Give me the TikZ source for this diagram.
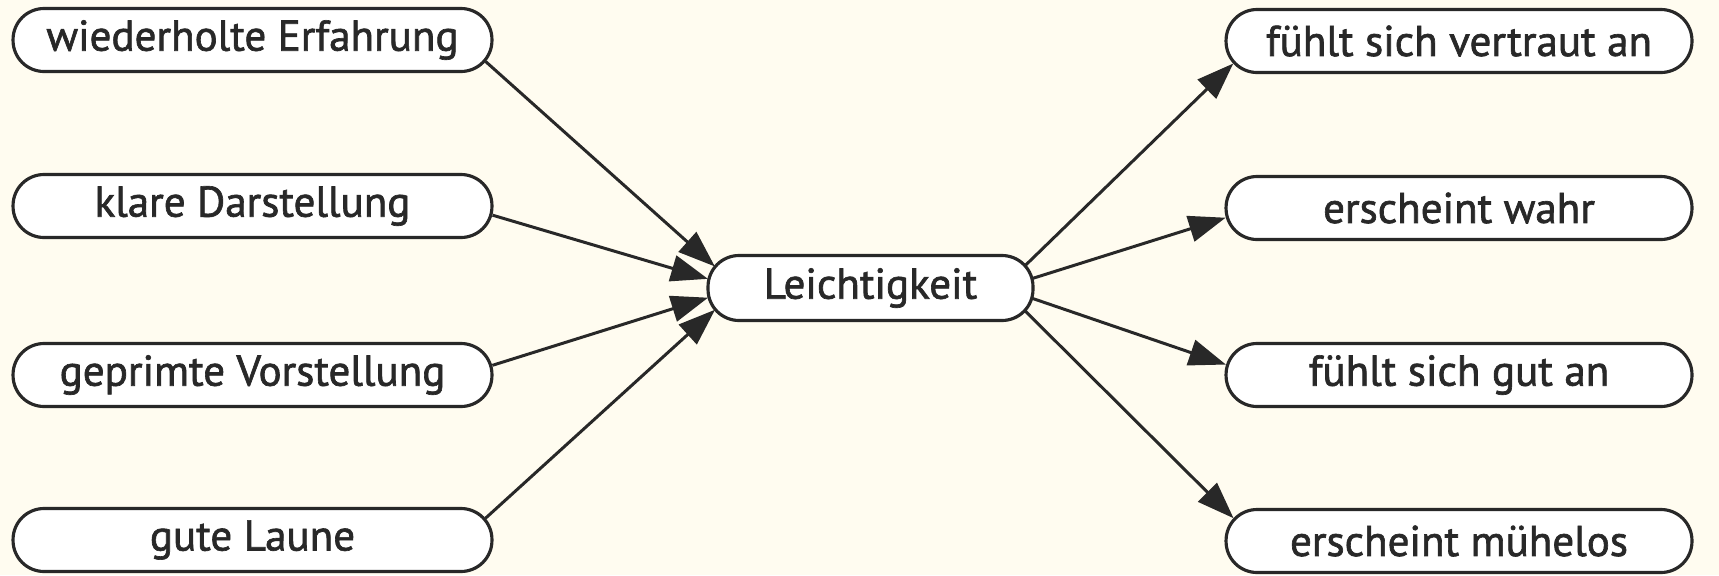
\documentclass[tikz,border=0pt]{standalone}
\usepackage{fontspec}
\setmainfont{PT Sans}
\newfontfamily\labelfont[BoldFont={PT Sans}, BoldFeatures={FakeBold=1.5}]{PT Sans}
\usetikzlibrary{arrows.meta}
\definecolor{paper}{RGB}{255,252,240}
\definecolor{ink}{RGB}{40,40,40}
\tikzset{
  box/.style={draw=ink, fill=white, line width=1.8pt, rectangle,
    rounded corners=0.62cm, minimum height=1.26cm, inner sep=0pt,
    text=ink, font=\labelfont\bfseries\fontsize{24.5}{26}\selectfont},
  leftbox/.style={box, minimum width=9.58cm},
  rightbox/.style={box, minimum width=9.32cm},
  midbox/.style={box, minimum width=6.5cm, minimum height=1.3cm},
  endcap/.style={circle, minimum size=1.28cm, inner sep=0pt, draw=none},
  link/.style={draw=ink, line width=1.7pt,
    -{Triangle[length=21pt,width=15pt]}},
}
\begin{document}
\begin{tikzpicture}[x=0.02cm, y=-0.02cm]
  \fill[paper] (0,0) rectangle (1719,575);
  \useasboundingbox (0,0) rectangle (1719,575);

  % causes
  \node[leftbox] (a1) at (252.5,40) {wiederholte Erfahrung};
  \node[leftbox] (a2) at (252.5,206) {klare Darstellung};
  \node[leftbox] (a3) at (252.5,375) {geprimte Vorstellung};
  \node[leftbox] (a4) at (252.5,540) {gute Laune};

  % central node
  \node[midbox] (m) at (870.5,288) {Leichtigkeit};

  % effects
  \node[rightbox] (b1) at (1459,41) {fühlt sich vertraut an};
  \node[rightbox] (b2) at (1459,208) {erscheint wahr};
  \node[rightbox] (b3) at (1459,375) {fühlt sich gut an};
  \node[rightbox] (b4) at (1459,541) {erscheint mühelos};

  % round ends of the boxes, used as connector ports
  \foreach \n in {a1,a2,a3,a4}
    \node[endcap] (\n r) at ([xshift=-0.64cm]\n.east) {};
  \foreach \n in {b1,b2,b3,b4}
    \node[endcap] (\n l) at ([xshift=0.64cm]\n.west) {};
  \node[endcap] (ml) at ([xshift=0.65cm]m.west) {};
  \node[endcap] (mr) at ([xshift=-0.65cm]m.east) {};

  % connectors
  \foreach \n in {a1,a2,a3,a4}
    \draw[link] (\n r) -- (ml);
  \foreach \n in {b1,b2,b3,b4}
    \draw[link] (mr) -- (\n l);
\end{tikzpicture}
\end{document}
